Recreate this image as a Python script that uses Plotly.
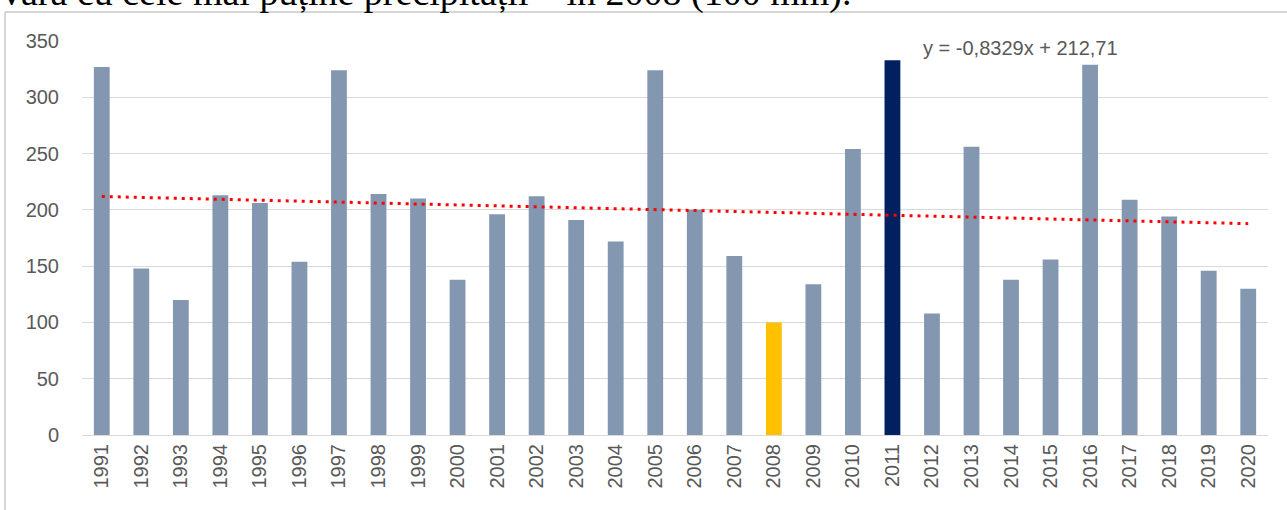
import plotly.graph_objects as go

years = [str(y) for y in range(1991, 2021)]
values = [327, 148, 120, 213, 206, 154, 324, 214, 210, 138,
          196, 212, 191, 172, 324, 200, 159, 100, 134, 254,
          333, 108, 256, 138, 156, 329, 209, 194, 146, 130]
trend_slope = -0.8329
trend_intercept = 212.71
trend_label = "y = -0,8329x + 212,71"
y_ticks = [0, 50, 100, 150, 200, 250, 300, 350]
top_text = "vară cu cele mai puține precipitații – în 2008 (100 mm)."

base_color = "#8497b0"
special = {"2008": "#ffc000", "2011": "#002060"}
colors = [special.get(y, base_color) for y in years]

trend = [trend_slope * (i + 1) + trend_intercept for i in range(len(years))]

W, H = 1287, 510
L, R, T, B = 82, 19, 41, 75
pw, ph = W - L - R, H - T - B

def px(s):
    return (s - L) / pw

def py(s):
    return (H - B - s) / ph

fig = go.Figure()
fig.add_trace(go.Bar(x=years, y=values, marker=dict(color=colors, line=dict(width=0)),
                     showlegend=False))
fig.add_trace(go.Scatter(x=years, y=trend, mode="lines",
                         line=dict(color="#ff0000", width=3, dash="3px,5px"),
                         showlegend=False))

fig.update_layout(
    width=W, height=H,
    margin=dict(l=L, r=R, t=T, b=B, autoexpand=False),
    paper_bgcolor="white", plot_bgcolor="white",
    bargap=0.6,
    font=dict(family="Liberation Sans", size=20, color="#595959"),
    xaxis=dict(type="category", tickangle=-90, showgrid=False, showline=True,
               linecolor="#d9d9d9", linewidth=1, ticks="", tickfont=dict(size=20),
               automargin=False),
    yaxis=dict(range=[0, 350], tickvals=y_ticks, showgrid=True, gridcolor="#d9d9d9",
               gridwidth=1, zeroline=False, showline=False, ticks="",
               ticklabelstandoff=22, tickfont=dict(size=20), automargin=False),
    annotations=[
        dict(text=trend_label, xref="paper", yref="paper", x=px(1020), y=py(48),
             xanchor="center", yanchor="middle", showarrow=False,
             font=dict(size=20, color="#595959", family="Liberation Sans")),
        dict(text=top_text, xref="paper", yref="paper", x=px(0), y=py(-8),
             xanchor="left", yanchor="middle", showarrow=False,
             font=dict(size=38, color="black", family="Liberation Serif")),
    ],
)
fig.add_shape(type="line", xref="paper", yref="paper",
              x0=px(5), x1=px(W + 40), y0=py(12), y1=py(12),
              line=dict(color="#d6d6d6", width=2), layer="above")
fig.add_shape(type="line", xref="paper", yref="paper",
              x0=px(5), x1=px(5), y0=py(12), y1=py(H + 40),
              line=dict(color="#d6d6d6", width=2), layer="above")

fig.write_html("out.html", config={"displayModeBar": False},
               post_script="document.body.style.margin='0';document.body.style.overflow='hidden';")
